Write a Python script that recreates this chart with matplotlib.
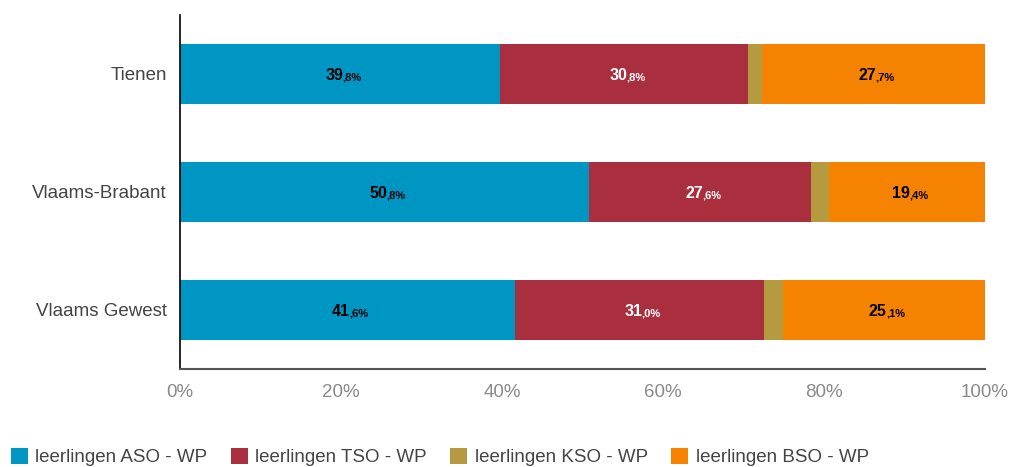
import matplotlib.pyplot as plt
from matplotlib.patches import Patch

# Aandeel leerlingen per onderwijsvorm (woonplaats), in %
regions = ['Tienen', 'Vlaams-Brabant', 'Vlaams Gewest']
aso = [39.8, 50.8, 41.6]
tso = [30.8, 27.6, 31.0]
kso = [1.7, 2.2, 2.3]
bso = [27.7, 19.4, 25.1]

series = ['leerlingen ASO - WP', 'leerlingen TSO - WP', 'leerlingen KSO - WP', 'leerlingen BSO - WP']
colors = ['#0096C3', '#A92F3F', '#B59A40', '#F58200']
label_colors = ['black', 'white', None, 'black']
xticks = [0, 20, 40, 60, 80, 100]

plt.rcParams['font.family'] = ['Liberation Sans', 'DejaVu Sans']

fig = plt.figure(figsize=(10.09, 4.67), dpi=100)
ax = fig.add_axes([180 / 1009, 1 - 369 / 467, 805 / 1009, 354 / 467])

ypos = list(range(len(regions)))
left = [0.0] * len(regions)
for vals, col, lcol in zip([aso, tso, kso, bso], colors, label_colors):
    ax.barh(ypos, vals, left=left, height=0.51, color=col, edgecolor='none')
    if lcol is not None:
        for y, l, v in zip(ypos, left, vals):
            cx = l + v / 2
            whole, dec = f'{v:.1f}'.split('.')
            # big integer part, small decimal part right after it
            ax.annotate(whole, (cx, y), xytext=(2, -1), textcoords='offset points',
                        ha='right', va='center', fontsize=11.5, fontweight='bold', color=lcol)
            ax.annotate(f',{dec}%', (cx, y), xytext=(1.5, -2.5), textcoords='offset points',
                        ha='left', va='center', fontsize=8, fontweight='bold', color=lcol)
    left = [a + b for a, b in zip(left, vals)]

ax.set_xlim(0, 100)
ax.set_ylim(2.5, -0.5)
ax.set_yticks(ypos)
ax.set_yticklabels(regions, fontsize=13.5, color='#444444')
ax.set_xticks(xticks)
ax.set_xticklabels([f'{t}%' for t in xticks], fontsize=13.5, color='#8a8a8a')
ax.tick_params(axis='both', length=0)
ax.tick_params(axis='x', pad=10.5)
ax.tick_params(axis='y', pad=9.5)

for s in ['top', 'right']:
    ax.spines[s].set_visible(False)
ax.spines['left'].set_color('black')
ax.spines['left'].set_linewidth(1.2)
ax.spines['bottom'].set_color('#555555')
ax.spines['bottom'].set_linewidth(1.5)

handles = [Patch(facecolor=c, edgecolor='none') for c in colors]
fig.legend(handles, series, loc='lower left', bbox_to_anchor=(-0.006, -0.035), ncol=4,
           frameon=False, fontsize=13.5, labelcolor='#444444', handlelength=0.9,
           handleheight=0.9, handletextpad=0.4, columnspacing=1.25)

fig.savefig('out.png', dpi=100)
